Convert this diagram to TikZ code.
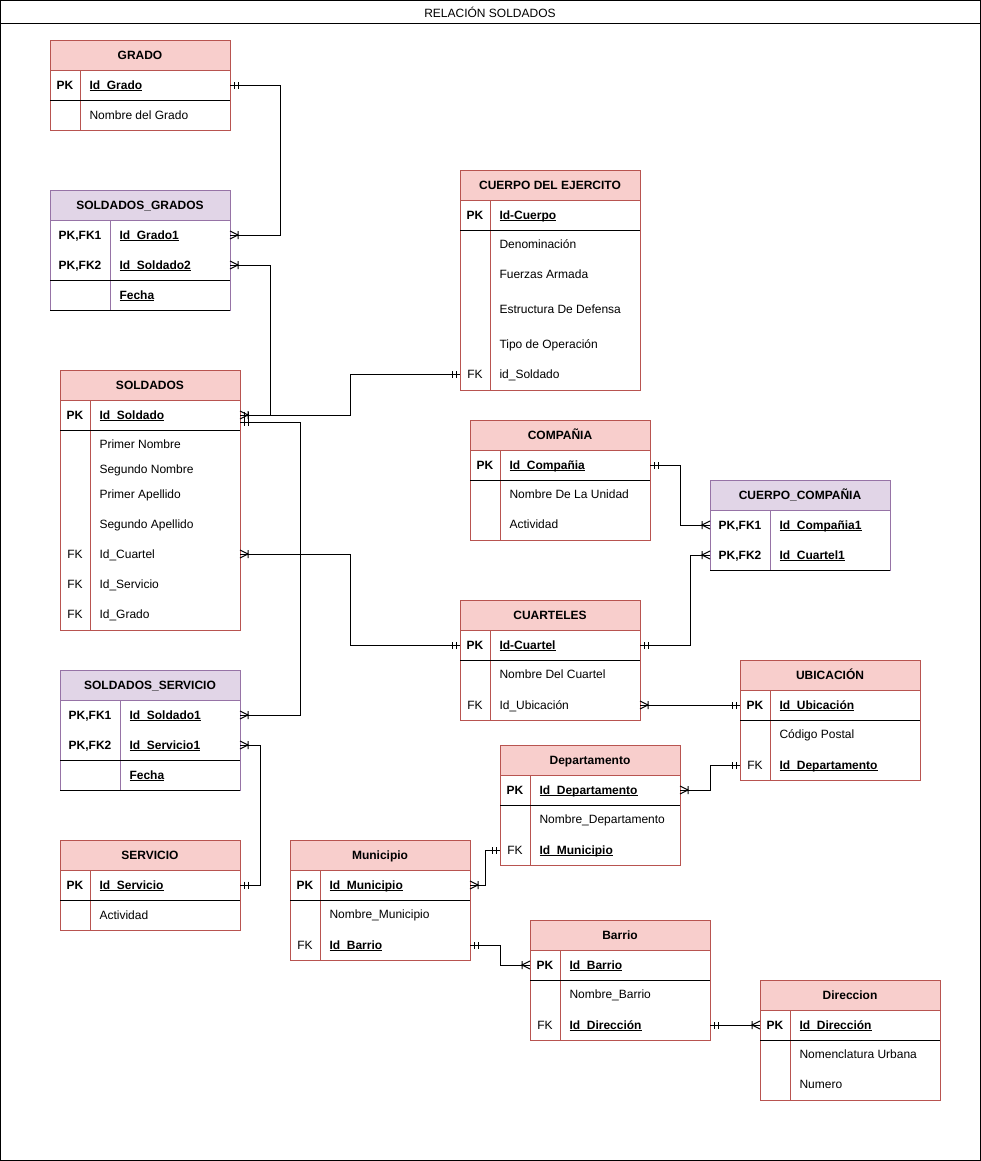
\documentclass[tikz,border=0pt]{standalone}
\usepackage{fontspec}
\setmainfont{Liberation Sans}
\usetikzlibrary{calc,decorations.markings}

\definecolor{redB}{HTML}{B85450}
\definecolor{redF}{HTML}{F8CECC}
\definecolor{purB}{HTML}{9673A6}
\definecolor{purF}{HTML}{E1D5E7}

\newcommand{\keyfld}[1]{\setbox0\hbox{\bfseries#1}\rlap{\rule[-1.7pt]{\wd0}{0.6pt}}\box0}

\tikzset{
  hdrR/.style={draw=redB,fill=redF,minimum width=135pt,minimum height=22.5pt,outer sep=0pt,inner sep=0.75pt,text height=6.5pt,text depth=0.5pt,font=\fontsize{9}{11}\selectfont\bfseries},
  hdrP/.style={hdrR,draw=purB,fill=purF},
  fld/.style={anchor=west,inner sep=0.75pt,text height=6.5pt,text depth=0.5pt},
  key/.style={inner sep=0.75pt,text height=6.5pt,text depth=0.5pt},
  one at start/.style={postaction={decorate,decoration={markings,mark=at position 0 with {\draw (4,-3.5) -- (4,3.5) (8,-3.5) -- (8,3.5);}}}},
  one at end/.style={postaction={decorate,decoration={markings,mark=at position 1 with {\draw (-4,-3.5) -- (-4,3.5) (-8,-3.5) -- (-8,3.5);}}}},
  many at start/.style={postaction={decorate,decoration={markings,mark=at position 0 with {\draw (0,-4) -- (8,0) -- (0,4) (8,-4) -- (8,4);}}}},
  many at end/.style={postaction={decorate,decoration={markings,mark=at position 1 with {\draw (0,-4) -- (-8,0) -- (0,4) (-8,-4) -- (-8,4);}}}}
}

\begin{document}
\begin{tikzpicture}[x=0.75pt,y=0.75pt,yscale=-1,xscale=1,line width=0.75pt,font=\fontsize{9}{11}\selectfont]
\useasboundingbox (0,0) rectangle (981,1161);

% Frame
\draw (0.5,0.5) rectangle (980.5,1160.5);
\draw (0.5,23) -- (980.5,23);
\node (title) at (490,12) {RELACIÓN SOLDADOS};

% Table GRADO
\draw[redB] (50,70) rectangle (230,130);
\draw[redB] (80,70) -- (80,130);
\draw (50,100) -- (230,100);
\node[hdrR] (grado) at (140,55) {GRADO};
\node[key] (gradoK1) at (65,85) {\textbf{PK}};
\node[fld] (gradoId) at (88,85) {\keyfld{Id\_Grado}};
\node[fld] (gradoNom) at (88,115) {Nombre del Grado};

% Table SOLDADOS_GRADOS
\draw[purB] (50,220) rectangle (230,310);
\draw[purB] (110,220) -- (110,310);
\draw (50,280) -- (230,280);
\draw (50,310) -- (230,310);
\node[hdrP] (sg) at (140,205) {SOLDADOS\_GRADOS};
\node[key] (sgK1) at (80,235) {\textbf{PK,FK1}};
\node[fld] (sgGr) at (118,235) {\keyfld{Id\_Grado1}};
\node[key] (sgK2) at (80,265) {\textbf{PK,FK2}};
\node[fld] (sgSo) at (118,265) {\keyfld{Id\_Soldado2}};
\node[fld] (sgFe) at (118,295) {\keyfld{Fecha}};

% Table SOLDADOS
\draw[redB] (60,400) rectangle (240,630);
\draw[redB] (90,400) -- (90,630);
\draw (60,430) -- (240,430);
\node[hdrR] (sol) at (150,385) {SOLDADOS};
\node[key] (solK1) at (75,415) {\textbf{PK}};
\node[fld] (solId) at (98,415) {\keyfld{Id\_Soldado}};
\node[fld] (solN1) at (98,444) {Primer Nombre};
\node[fld] (solN2) at (98,469) {Segundo Nombre};
\node[fld] (solA1) at (98,494) {Primer Apellido};
\node[fld] (solA2) at (98,524) {Segundo Apellido};
\node[key] (solK2) at (75,554) {FK};
\node[fld] (solCu) at (98,554) {Id\_Cuartel};
\node[key] (solK3) at (75,584) {FK};
\node[fld] (solSe) at (98,584) {Id\_Servicio};
\node[key] (solK4) at (75,614) {FK};
\node[fld] (solGr) at (98,614) {Id\_Grado};

% Table SOLDADOS_SERVICIO
\draw[purB] (60,700) rectangle (240,790);
\draw[purB] (120,700) -- (120,790);
\draw (60,760) -- (240,760);
\draw (60,790) -- (240,790);
\node[hdrP] (ss) at (150,685) {SOLDADOS\_SERVICIO};
\node[key] (ssK1) at (90,715) {\textbf{PK,FK1}};
\node[fld] (ssSo) at (128,715) {\keyfld{Id\_Soldado1}};
\node[key] (ssK2) at (90,745) {\textbf{PK,FK2}};
\node[fld] (ssSe) at (128,745) {\keyfld{Id\_Servicio1}};
\node[fld] (ssFe) at (128,775) {\keyfld{Fecha}};

% Table SERVICIO
\draw[redB] (60,870) rectangle (240,930);
\draw[redB] (90,870) -- (90,930);
\draw (60,900) -- (240,900);
\node[hdrR] (serv) at (150,855) {SERVICIO};
\node[key] (servK1) at (75,885) {\textbf{PK}};
\node[fld] (servId) at (98,885) {\keyfld{Id\_Servicio}};
\node[fld] (servAc) at (98,915) {Actividad};

% Table CUERPO DEL EJERCITO
\draw[redB] (460,200) rectangle (640,390);
\draw[redB] (490,200) -- (490,390);
\draw (460,230) -- (640,230);
\node[hdrR] (cue) at (550,185) {CUERPO DEL EJERCITO};
\node[key] (cueK1) at (475,215) {\textbf{PK}};
\node[fld] (cueId) at (498,215) {\keyfld{Id-Cuerpo}};
\node[fld] (cueDe) at (498,244) {Denominación};
\node[fld] (cueFu) at (498,274) {Fuerzas Armada};
\node[fld] (cueEs) at (498,309) {Estructura De Defensa};
\node[fld] (cueTi) at (498,344) {Tipo de Operación};
\node[key] (cueK2) at (475,374) {FK};
\node[fld] (cueSo) at (498,374) {id\_Soldado};

% Table COMPAÑIA
\draw[redB] (470,450) rectangle (650,540);
\draw[redB] (500,450) -- (500,540);
\draw (470,480) -- (650,480);
\node[hdrR] (comp) at (560,435) {COMPAÑIA};
\node[key] (compK1) at (485,465) {\textbf{PK}};
\node[fld] (compId) at (508,465) {\keyfld{Id\_Compañia}};
\node[fld] (compNo) at (508,494) {Nombre De La Unidad};
\node[fld] (compAc) at (508,524) {Actividad};

% Table CUERPO_COMPAÑIA
\draw[purB] (710,510) rectangle (890,570);
\draw[purB] (770,510) -- (770,570);
\draw (710,570) -- (890,570);
\node[hdrP] (cc) at (800,495) {CUERPO\_COMPAÑIA};
\node[key] (ccK1) at (740,525) {\textbf{PK,FK1}};
\node[fld] (ccCo) at (778,525) {\keyfld{Id\_Compañia1}};
\node[key] (ccK2) at (740,555) {\textbf{PK,FK2}};
\node[fld] (ccCu) at (778,555) {\keyfld{Id\_Cuartel1}};

% Table CUARTELES
\draw[redB] (460,630) rectangle (640,720);
\draw[redB] (490,630) -- (490,720);
\draw (460,660) -- (640,660);
\node[hdrR] (cua) at (550,615) {CUARTELES};
\node[key] (cuaK1) at (475,645) {\textbf{PK}};
\node[fld] (cuaId) at (498,645) {\keyfld{Id-Cuartel}};
\node[fld] (cuaNo) at (498,674) {Nombre Del Cuartel};
\node[key] (cuaK2) at (475,705) {FK};
\node[fld] (cuaUb) at (498,705) {Id\_Ubicación};

% Table UBICACIÓN
\draw[redB] (740,690) rectangle (920,780);
\draw[redB] (770,690) -- (770,780);
\draw (740,720) -- (920,720);
\node[hdrR] (ubi) at (830,675) {UBICACIÓN};
\node[key] (ubiK1) at (755,705) {\textbf{PK}};
\node[fld] (ubiId) at (778,705) {\keyfld{Id\_Ubicación}};
\node[fld] (ubiCo) at (778,734) {Código Postal};
\node[key] (ubiK2) at (755,765) {FK};
\node[fld] (ubiDe) at (778,765) {\keyfld{Id\_Departamento}};

% Table Departamento
\draw[redB] (500,775) rectangle (680,865);
\draw[redB] (530,775) -- (530,865);
\draw (500,805) -- (680,805);
\node[hdrR] (dep) at (590,760) {Departamento};
\node[key] (depK1) at (515,790) {\textbf{PK}};
\node[fld] (depId) at (538,790) {\keyfld{Id\_Departamento}};
\node[fld] (depNo) at (538,819) {Nombre\_Departamento};
\node[key] (depK2) at (515,850) {FK};
\node[fld] (depMu) at (538,850) {\keyfld{Id\_Municipio}};

% Table Municipio
\draw[redB] (290,870) rectangle (470,960);
\draw[redB] (320,870) -- (320,960);
\draw (290,900) -- (470,900);
\node[hdrR] (mun) at (380,855) {Municipio};
\node[key] (munK1) at (305,885) {\textbf{PK}};
\node[fld] (munId) at (328,885) {\keyfld{Id\_Municipio}};
\node[fld] (munNo) at (328,914) {Nombre\_Municipio};
\node[key] (munK2) at (305,945) {FK};
\node[fld] (munBa) at (328,945) {\keyfld{Id\_Barrio}};

% Table Barrio
\draw[redB] (530,950) rectangle (710,1040);
\draw[redB] (560,950) -- (560,1040);
\draw (530,980) -- (710,980);
\node[hdrR] (bar) at (620,935) {Barrio};
\node[key] (barK1) at (545,965) {\textbf{PK}};
\node[fld] (barId) at (568,965) {\keyfld{Id\_Barrio}};
\node[fld] (barNo) at (568,994) {Nombre\_Barrio};
\node[key] (barK2) at (545,1025) {FK};
\node[fld] (barDi) at (568,1025) {\keyfld{Id\_Dirección}};

% Table Direccion
\draw[redB] (760,1010) rectangle (940,1100);
\draw[redB] (790,1010) -- (790,1100);
\draw (760,1040) -- (940,1040);
\node[hdrR] (dir) at (850,995) {Direccion};
\node[key] (dirK1) at (775,1025) {\textbf{PK}};
\node[fld] (dirId) at (798,1025) {\keyfld{Id\_Dirección}};
\node[fld] (dirNo) at (798,1054) {Nomenclatura Urbana};
\node[fld] (dirNu) at (798,1084) {Numero};

% Connection
\draw[one at start,many at end] (gradoId -| grado.east) -- ++(50,0) |- (sgGr -| sg.east);
% Connection
\draw[many at start,one at end] (sgSo -| sg.east) -- ++(40,0) |- (solId -| sol.east);
% Connection
\draw[many at start,one at end] (solId -| sol.east) -- ++(110,0) |- (cueSo -| cue.west);
% Connection
\draw[one at start,many at end] ($(solId -| sol.east)+(0,7)$) -- ++(60,0) |- (ssSo -| ss.east);
% Connection
\draw[many at start,one at end] (solCu -| sol.east) -- ++(110,0) |- (cuaId -| cua.west);
% Connection
\draw[many at start,one at end] (ssSe -| ss.east) -- ++(20,0) |- (servId -| serv.east);
% Connection
\draw[one at start,many at end] (compId -| comp.east) -- ++(30,0) |- (ccCo -| cc.west);
% Connection
\draw[one at start,many at end] (cuaId -| cua.east) -- ++(50,0) |- (ccCu -| cc.west);
% Connection
\draw[many at start,one at end] (cuaUb -| cua.east) -- (ubiId -| ubi.west);
% Connection
\draw[many at start,one at end] (depId -| dep.east) -- ++(30,0) |- (ubiDe -| ubi.west);
% Connection
\draw[many at start,one at end] (munId -| mun.east) -- ++(15,0) |- (depMu -| dep.west);
% Connection
\draw[one at start,many at end] (munBa -| mun.east) -- ++(30,0) |- (barId -| bar.west);
% Connection
\draw[one at start,many at end] (barDi -| bar.east) -- (dirId -| dir.west);

\end{tikzpicture}
\end{document}
